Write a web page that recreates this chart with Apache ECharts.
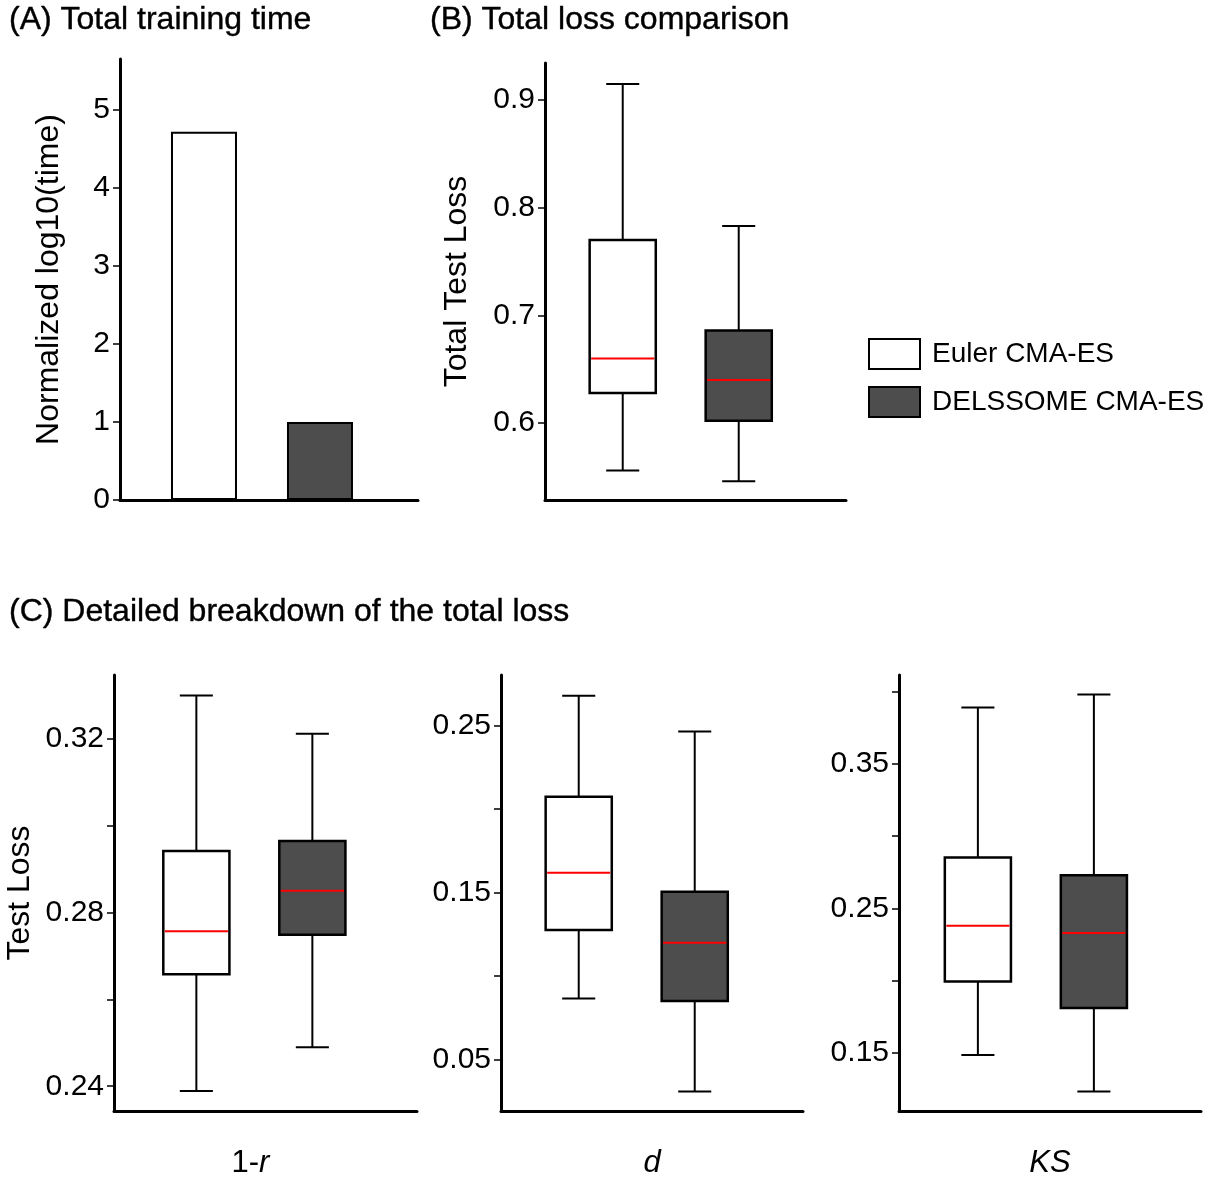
<!DOCTYPE html>
<html>
<head>
<meta charset="utf-8">
<title>Training time and loss comparison</title>
<script src="https://cdn.jsdelivr.net/npm/echarts@6/dist/echarts.min.js"></script>
<style>
  html, body { margin: 0; padding: 0; background: #fff; }
  #chart { width: 1226px; height: 1180px; }
</style>
</head>
<body>
<div id="chart"></div>
<script>
// methods / positions on the x axis
const methods = ['Euler CMA-ES', 'DELSSOME CMA-ES']
const positions = [1, 2]

// (A) normalized log10(time)
const trainTime = [4.72, 1.0]
const timeTicks = [0, 1, 2, 3, 4, 5]

// box stats: [min, q1, median, q3, max]
const totalEuler = [0.556, 0.628, 0.660, 0.770, 0.915]
const totalDelssome = [0.546, 0.602, 0.640, 0.686, 0.783]
const totalTicks = [0.6, 0.7, 0.8, 0.9]

const corrEuler = [0.2389, 0.2658, 0.2757, 0.2942, 0.3300]
const corrDelssome = [0.2490, 0.2749, 0.2850, 0.2965, 0.3212]
const corrTicks = [0.24, 0.26, 0.28, 0.30, 0.32]
const corrLabels = [0.24, 0.28, 0.32]

const distEuler = [0.0865, 0.1275, 0.1618, 0.2074, 0.2680]
const distDelssome = [0.0307, 0.0850, 0.1199, 0.1504, 0.2466]
const distTicks = [0.05, 0.10, 0.15, 0.20, 0.25]
const distLabels = [0.05, 0.15, 0.25]

const ksEuler = [0.1486, 0.1994, 0.2380, 0.2852, 0.3890]
const ksDelssome = [0.1233, 0.1810, 0.2330, 0.2730, 0.3980]
const ksTicks = [0.15, 0.20, 0.25, 0.30, 0.35, 0.40]
const ksLabels = [0.15, 0.25, 0.35]

const FONT = "'Liberation Sans', Arial, sans-serif"
const WHITE = '#ffffff'
const DARK = '#4d4d4d'

const chart = echarts.init(document.getElementById('chart'))

function yAxis(grid, min, max, ticks, labels, name, gap) {
  return {
    type: 'value',
    gridIndex: grid,
    min: min,
    max: max,
    name: name,
    nameLocation: 'middle',
    nameGap: gap,
    nameTextStyle: { fontSize: 32, color: '#000', fontFamily: FONT },
    axisLine: { show: true, lineStyle: { color: '#000', width: 3 } },
    axisTick: { show: true, length: 7, lineStyle: { color: '#000', width: 1.5 }, customValues: ticks },
    axisLabel: { fontSize: 30, color: '#000', fontFamily: FONT, margin: 10, customValues: labels },
    splitLine: { show: false },
  }
}

function xAxis(grid, min, max, name, shift) {
  return {
    type: 'value',
    gridIndex: grid,
    min: min,
    max: max,
    name: name || '',
    nameLocation: 'middle',
    nameGap: 37,
    nameTextStyle: {
      fontSize: 31,
      color: '#000',
      fontFamily: FONT,
      padding: [0, shift || 0, 0, 0],
      rich: {
        n: { fontSize: 31, color: '#000', fontFamily: FONT },
        i: { fontSize: 31, color: '#000', fontFamily: FONT, fontStyle: 'italic' },
      },
    },
    axisLine: { show: true, onZero: false, lineStyle: { color: '#000', width: 3 } },
    axisTick: { show: false },
    axisLabel: { show: false },
    splitLine: { show: false },
  }
}

// draws whiskers, box and red median through the axis scales
function renderBox(params, api) {
  const x = api.value(0)
  const lo = api.coord([x, api.value(1)])
  const q1 = api.coord([x, api.value(2)])
  const med = api.coord([x, api.value(3)])
  const q3 = api.coord([x, api.value(4)])
  const hi = api.coord([x, api.value(5)])
  const w = api.size([0.57, 0])[0]
  const cx = lo[0]
  const line = { stroke: '#000', lineWidth: 2 }
  return {
    type: 'group',
    children: [
      { type: 'line', shape: { x1: cx, y1: hi[1], x2: cx, y2: q3[1] }, style: line },
      { type: 'line', shape: { x1: cx, y1: q1[1], x2: cx, y2: lo[1] }, style: line },
      { type: 'line', shape: { x1: cx - w / 4, y1: hi[1], x2: cx + w / 4, y2: hi[1] }, style: line },
      { type: 'line', shape: { x1: cx - w / 4, y1: lo[1], x2: cx + w / 4, y2: lo[1] }, style: line },
      {
        type: 'rect',
        shape: { x: cx - w / 2, y: q3[1], width: w, height: q1[1] - q3[1] },
        style: { fill: api.visual('color'), stroke: '#000', lineWidth: 2.5 },
      },
      {
        type: 'line',
        shape: { x1: cx - w / 2 + 1.5, y1: med[1], x2: cx + w / 2 - 1.5, y2: med[1] },
        style: { stroke: '#ff0000', lineWidth: 2 },
      },
    ],
  }
}

function boxSeries(grid, name, pos, stats, color) {
  return {
    type: 'custom',
    name: name,
    xAxisIndex: grid,
    yAxisIndex: grid,
    itemStyle: { color: color },
    encode: { x: 0, y: [1, 2, 3, 4, 5] },
    renderItem: renderBox,
    data: [[pos].concat(stats)],
  }
}

const titleStyle = { fontSize: 32, color: '#000', fontFamily: FONT, fontWeight: 'normal', textBorderColor: '#000', textBorderWidth: 0.4 }

chart.setOption({
  animation: false,
  backgroundColor: '#fff',
  title: [
    { text: '(A) Total training time', left: 9, top: 4, textStyle: titleStyle, padding: 0 },
    { text: '(B) Total loss comparison', left: 430, top: 4, textStyle: titleStyle, padding: 0 },
    { text: '(C) Detailed breakdown of the total loss', left: 9, top: 596, textStyle: titleStyle, padding: 0 },
  ],
  legend: {
    orient: 'vertical',
    left: 868,
    top: 338,
    padding: 0,
    icon: 'rect',
    itemWidth: 51,
    itemHeight: 30,
    itemGap: 16,
    data: methods,
    textStyle: { fontSize: 28, color: '#000', fontFamily: FONT, padding: [0, 0, 0, 7] },
  },
  grid: [
    { left: 120, top: 59, width: 298, height: 441 },
    { left: 545, top: 63, width: 301, height: 437 },
    { left: 114, top: 675, width: 303, height: 438 },
    { left: 501, top: 675, width: 302, height: 438 },
    { left: 899, top: 675, width: 302, height: 438 },
  ],
  xAxis: [
    xAxis(0, 0.276, 0.276 + 298 / 116),
    xAxis(1, 0.33, 0.33 + 301 / 116),
    xAxis(2, 0.29, 0.29 + 303 / 116, '{n|1-}{i|r}', 30),
    xAxis(3, 0.33, 0.33 + 302 / 116, '{i|d}'),
    xAxis(4, 0.32, 0.32 + 302 / 116, '{i|KS}'),
  ],
  yAxis: [
    yAxis(0, 0, 5.654, timeTicks, timeTicks, 'Normalized log10(time)', 55),
    yAxis(1, 0.5285, 0.9344, totalTicks, totalTicks, 'Total Test Loss', 72),
    yAxis(2, 0.2343, 0.3347, corrTicks, corrLabels, 'Test Loss', 78),
    yAxis(3, 0.019, 0.2804, distTicks, distLabels, '', 60),
    yAxis(4, 0.1098, 0.4115, ksTicks, ksLabels, '', 60),
  ],
  series: [
    {
      type: 'bar',
      name: methods[0],
      xAxisIndex: 0,
      yAxisIndex: 0,
      barWidth: 66,
      barGap: '-100%',
      itemStyle: { color: WHITE, borderColor: '#000', borderWidth: 2 },
      data: [[positions[0], trainTime[0]]],
    },
    {
      type: 'bar',
      name: methods[1],
      xAxisIndex: 0,
      yAxisIndex: 0,
      barWidth: 66,
      barGap: '-100%',
      itemStyle: { color: DARK, borderColor: '#000', borderWidth: 2 },
      data: [[positions[1], trainTime[1]]],
    },
    boxSeries(1, methods[0], positions[0], totalEuler, WHITE),
    boxSeries(1, methods[1], positions[1], totalDelssome, DARK),
    boxSeries(2, methods[0], positions[0], corrEuler, WHITE),
    boxSeries(2, methods[1], positions[1], corrDelssome, DARK),
    boxSeries(3, methods[0], positions[0], distEuler, WHITE),
    boxSeries(3, methods[1], positions[1], distDelssome, DARK),
    boxSeries(4, methods[0], positions[0], ksEuler, WHITE),
    boxSeries(4, methods[1], positions[1], ksDelssome, DARK),
  ],
})
</script>
</body>
</html>
